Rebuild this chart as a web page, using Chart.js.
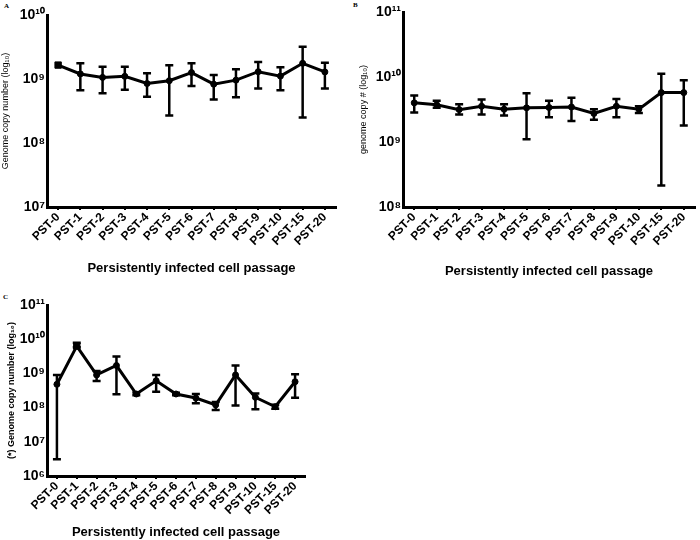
<!DOCTYPE html>
<html>
<head>
<meta charset="utf-8">
<script src="https://cdn.jsdelivr.net/npm/chart.js@4.4.1/dist/chart.umd.min.js"></script>
<style>
  body { margin: 0; background: #fff; width: 700px; height: 540px; position: relative; overflow: hidden; }
  canvas { position: absolute; }
  .lettre { position: absolute; font-family: "Liberation Serif", serif; font-size: 7px; font-weight: bold; }
</style>
</head>
<body>
<div class="lettre" style="left:4px;top:2px">A</div>
<div class="lettre" style="left:353px;top:1px">B</div>
<div class="lettre" style="left:3px;top:293px">C</div>
<canvas id="chart-a" width="350" height="280" style="left:0;top:0"></canvas>
<canvas id="chart-b" width="350" height="280" style="left:350px;top:0"></canvas>
<canvas id="chart-c" width="350" height="260" style="left:0;top:280px"></canvas>
<script>
// Passages
const categories = ["PST-0", "PST-1", "PST-2", "PST-3", "PST-4", "PST-5", "PST-6",
  "PST-7", "PST-8", "PST-9", "PST-10", "PST-15", "PST-20"];

// Panneau A
const aMoyenne = [1.65e9, 1.2e9, 1.06e9, 1.1e9, 8.5e8, 9.4e8, 1.26e9, 8.3e8, 9.6e8, 1.3e9, 1.11e9, 1.76e9, 1.29e9];
const aBas = [null, 6.7e8, 6.0e8, 6.8e8, 5.3e8, 2.7e8, 7.8e8, 4.8e8, 5.2e8, 7.1e8, 6.7e8, 2.5e8, 7.1e8];
const aHaut = [null, 1.76e9, 1.56e9, 1.56e9, 1.23e9, 1.64e9, 1.76e9, 1.15e9, 1.42e9, 1.85e9, 1.52e9, 3.2e9, 1.8e9];

// Panneau B
const bMoyenne = [4.0e9, 3.75e9, 3.15e9, 3.55e9, 3.2e9, 3.35e9, 3.4e9, 3.45e9, 2.75e9, 3.55e9, 3.2e9, 5.75e9, 5.75e9];
const bBas = [2.85e9, 3.35e9, 2.65e9, 2.65e9, 2.55e9, 1.1e9, 2.4e9, 2.1e9, 2.2e9, 2.4e9, 2.8e9, 2.15e8, 1.8e9];
const bHaut = [5.2e9, 4.3e9, 3.8e9, 4.5e9, 3.8e9, 5.6e9, 4.3e9, 4.8e9, 3.2e9, 4.6e9, 3.55e9, 1.12e10, 8.9e9];

// Panneau C
const cMoyenne = [4.8e8, 6.3e9, 9.0e8, 1.7e9, 2.5e8, 6.1e8, 2.5e8, 1.9e8, 1.2e8, 9.0e8, 2.0e8, 1.06e8, 5.7e8];
const cBas = [3.1e6, 5.8e9, 6.0e8, 2.45e8, 2.3e8, 2.9e8, 2.3e8, 1.35e8, 8.5e7, 1.15e8, 9e7, 9.2e7, 1.95e8];
const cHaut = [9.0e8, 7.9e9, 1.17e9, 3.1e9, 2.75e8, 9.0e8, 2.7e8, 2.5e8, 1.46e8, 1.7e9, 2.6e8, 1.22e8, 9.4e8];

const exposants = "⁰¹²³⁴⁵⁶⁷⁸⁹";
function puissance(v) {
  const e = Math.round(Math.log10(v));
  return "10" + String(e).split("").map((c) => exposants[+c]).join("");
}

// Barres d'erreur dessinées avec l'échelle y du graphique
const barresErreur = {
  id: "barresErreur",
  afterDatasetsDraw(chart, args, opts) {
    const ctx = chart.ctx;
    const meta = chart.getDatasetMeta(0);
    const yScale = chart.scales.y;
    ctx.save();
    ctx.strokeStyle = "#000";
    ctx.lineWidth = 2.5;
    meta.data.forEach((pt, i) => {
      if (opts.bas[i] == null) return;
      const x = pt.x;
      const y1 = yScale.getPixelForValue(opts.bas[i]);
      const y2 = yScale.getPixelForValue(opts.haut[i]);
      ctx.beginPath();
      ctx.moveTo(x, y1); ctx.lineTo(x, y2);
      ctx.moveTo(x - 4, y1); ctx.lineTo(x + 4, y1);
      ctx.moveTo(x - 4, y2); ctx.lineTo(x + 4, y2);
      ctx.stroke();
    });
    ctx.restore();
  },
};

function graphique(id, moyenne, bas, haut, min, max, titreY, grasY, carre, mise) {
  const decades = [];
  for (let v = min; v <= max * 1.001; v *= 10) decades.push(v);
  return new Chart(document.getElementById(id).getContext("2d"), {
    type: "line",
    data: {
      labels: categories,
      datasets: [{
        data: moyenne,
        borderColor: "#000",
        backgroundColor: "#000",
        borderWidth: 3,
        pointBorderWidth: 1,
        pointRadius: categories.map((c, i) => (i === carre ? 4.5 : 3)),
        pointStyle: categories.map((c, i) => (i === carre ? "rect" : "circle")),
        tension: 0,
      }],
    },
    options: {
      responsive: false,
      animation: false,
      layout: { padding: mise.padding },
      plugins: {
        legend: { display: false },
        tooltip: { enabled: false },
        barresErreur: { bas: bas, haut: haut },
      },
      scales: {
        x: {
          type: "category",
          offset: true,
          grid: { display: true, drawOnChartArea: false, drawTicks: true, tickLength: 3, lineWidth: 2, color: "#000" },
          border: { display: true, width: 3, color: "#000" },
          ticks: {
            autoSkip: false, minRotation: 45, maxRotation: 45, padding: 0,
            color: "#000", font: { family: "Liberation Sans", size: 12, weight: "bold" },
          },
          title: {
            display: true, text: "Persistently infected cell passage", color: "#000",
            font: { family: "Liberation Sans", size: 13, weight: "bold" },
            padding: { top: 0, bottom: mise.titreBas },
          },
          afterFit: (s) => { s.height = mise.hauteurX; },
        },
        y: {
          type: "logarithmic",
          min: min,
          max: max,
          grid: { display: false, drawTicks: false },
          border: { display: true, width: 3, color: "#000" },
          afterBuildTicks: (s) => { s.ticks = decades.map((v) => ({ value: v })); },
          ticks: {
            padding: 2, color: "#000",
            font: { family: "Liberation Sans", size: 14, weight: "bold" },
            callback: (v) => puissance(v),
          },
          title: {
            display: true, text: titreY, color: "#000",
            font: { family: "Liberation Sans", size: 9, weight: grasY ? "bold" : "normal" },
            padding: 0,
          },
          afterFit: (s) => { s.width = mise.largeurY; },
        },
      },
    },
    plugins: [barresErreur],
  });
}

graphique("chart-a", aMoyenne, aBas, aHaut, 1e7, 1e10, "Genome copy number (log₁₀)", false, 0,
  { padding: { top: 15, right: 14, left: 0, bottom: 0 }, largeurY: 47, hauteurX: 73, titreBas: 4 });
graphique("chart-b", bMoyenne, bBas, bHaut, 1e8, 1e11, "genome copy # (log₁₀)", false, -1,
  { padding: { top: 12, right: 1, left: 8, bottom: 0 }, largeurY: 45, hauteurX: 73, titreBas: 1 });
graphique("chart-c", cMoyenne, cBas, cHaut, 1e6, 1e11, "(*) Genome copy number (log₁₀)", true, 1,
  { padding: { top: 25, right: 45, left: 6, bottom: 0 }, largeurY: 41, hauteurX: 64, titreBas: 0 });
</script>
</body>
</html>
